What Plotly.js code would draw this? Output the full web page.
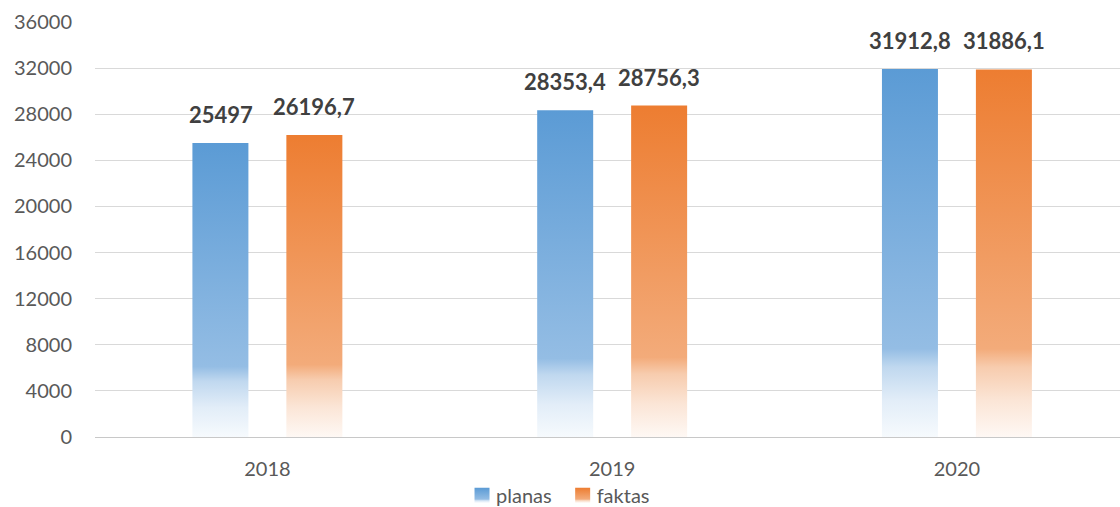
<!DOCTYPE html>
<html>
<head>
<meta charset="utf-8">
<script src="https://cdn.plot.ly/plotly-3.0.1.min.js"></script>
<style>
html,body{margin:0;padding:0;background:#fff;}
#chart{width:1120px;height:507px;}
</style>
</head>
<body>
<svg width="0" height="0" style="position:absolute">
  <defs>
    <linearGradient id="gradBlue" x1="0" y1="0" x2="0" y2="1">
      <stop offset="0" stop-color="#5B9BD5"/>
      <stop offset="0.76" stop-color="#94BDE4"/>
      <stop offset="0.81" stop-color="#C0D8EF"/>
      <stop offset="0.90" stop-color="#E2EDF8"/>
      <stop offset="1" stop-color="#F6FAFD"/>
    </linearGradient>
    <linearGradient id="gradOrange" x1="0" y1="0" x2="0" y2="1">
      <stop offset="0" stop-color="#ED7D31"/>
      <stop offset="0.76" stop-color="#F3AB7A"/>
      <stop offset="0.81" stop-color="#F7CCAE"/>
      <stop offset="0.90" stop-color="#FBE5D6"/>
      <stop offset="1" stop-color="#FEF8F4"/>
    </linearGradient>
  </defs>
</svg>
<div id="chart"></div>
<script>
const categories = ["2018", "2019", "2020"];
const planas = [25497, 28353.4, 31912.8];
const faktas = [26196.7, 28756.3, 31886.1];
const seriesNames = ["planas", "faktas"];
const yTicks = [0, 4000, 8000, 12000, 16000, 20000, 24000, 28000, 32000, 36000];

const fmt = v => String(v).replace('.', ',');
const FONT = "Lato, 'Open Sans', sans-serif";

const traces = [
  {type: 'bar', name: seriesNames[0], x: categories, y: planas, marker: {color: '#5B9BD5'}},
  {type: 'bar', name: seriesNames[1], x: categories, y: faktas, marker: {color: '#ED7D31'}}
];

const offset = 0.136;
const annotations = [];
[planas, faktas].forEach((vals, s) => {
  vals.forEach((v, i) => {
    annotations.push({
      x: i + (s === 0 ? -offset : offset), y: v, xref: 'x', yref: 'y',
      text: '<b>' + fmt(v) + '</b>', showarrow: false,
      yanchor: 'bottom', xanchor: 'center', yshift: 13,
      font: {family: FONT, size: 22, color: '#404040'}
    });
  });
});

const layout = {
  width: 1120, height: 507,
  margin: {l: 95, r: 0, t: 22, b: 70},
  paper_bgcolor: '#fff', plot_bgcolor: '#fff',
  barmode: 'group', bargap: 0.455, bargroupgap: 0.404,
  font: {family: FONT, color: '#595959'},
  showlegend: true,
  legend: {orientation: 'h', xref: 'container', yref: 'container',
           x: 0.496, xanchor: 'center', y: 0.023, yanchor: 'middle',
           bgcolor: 'rgba(0,0,0,0)',
           font: {family: FONT, size: 20, color: '#595959'}},
  xaxis: {type: 'category', range: [-0.5, 2.473], tickfont: {size: 20, color: '#595959'}, showgrid: false,
          showline: true, linecolor: '#C8C8C8', linewidth: 1, ticks: '', ticklabelstandoff: 14,
          automargin: false},
  yaxis: {range: [0, 36000], tickvals: yTicks, ticktext: yTicks.map(String),
          tickfont: {size: 20, color: '#595959'}, showgrid: true, gridcolor: '#D9D9D9', gridwidth: 1,
          zeroline: false, showline: false, ticks: '', ticklabelstandoff: 22, automargin: false},
  annotations: annotations,
  hovermode: false
};

Plotly.newPlot('chart', traces, layout, {displayModeBar: false, staticPlot: true}).then(gd => {
  const grads = ['url(#gradBlue)', 'url(#gradOrange)'];
  gd.querySelectorAll('.barlayer .trace').forEach((t, i) => {
    t.querySelectorAll('path').forEach(p => { p.style.fill = grads[i]; });
  });
  gd.querySelectorAll('.legend .traces').forEach((t, i) => {
    t.querySelectorAll('.legendpoints path').forEach(p => {
      p.style.fill = grads[i];
      const prev = p.getAttribute('transform') || '';
      p.setAttribute('transform', prev + ' translate(6,0) scale(1.25)');
    });
  });
});
</script>
</body>
</html>
